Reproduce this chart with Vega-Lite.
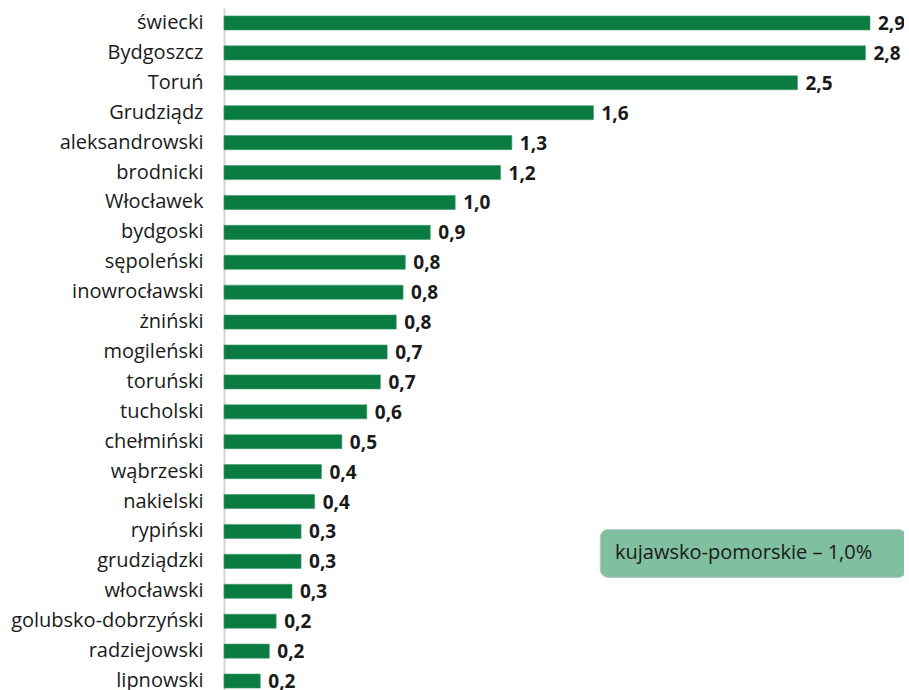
{
  "$schema": "https://vega.github.io/schema/vega-lite/v6.json",
  "autosize": {"type": "none"},
  "padding": {"left": 224, "top": 8, "right": 0, "bottom": 0},
  "width": 680,
  "height": 688,
  "background": "#ffffff",
  "config": {
    "view": {"stroke": null},
    "font": "Open Sans",
    "locale": {"number": {"decimal": ",", "thousands": "\u00a0", "grouping": [3], "currency": ["", " zł"]}}
  },
  "datasets": {
    "powiaty": [
      {"powiat": "świecki", "wartosc": 2.85},
      {"powiat": "Bydgoszcz", "wartosc": 2.83},
      {"powiat": "Toruń", "wartosc": 2.53},
      {"powiat": "Grudziądz", "wartosc": 1.63},
      {"powiat": "aleksandrowski", "wartosc": 1.27},
      {"powiat": "brodnicki", "wartosc": 1.22},
      {"powiat": "Włocławek", "wartosc": 1.02},
      {"powiat": "bydgoski", "wartosc": 0.91},
      {"powiat": "sępoleński", "wartosc": 0.80},
      {"powiat": "inowrocławski", "wartosc": 0.79},
      {"powiat": "żniński", "wartosc": 0.76},
      {"powiat": "mogileński", "wartosc": 0.72},
      {"powiat": "toruński", "wartosc": 0.69},
      {"powiat": "tucholski", "wartosc": 0.63},
      {"powiat": "chełmiński", "wartosc": 0.52},
      {"powiat": "wąbrzeski", "wartosc": 0.43},
      {"powiat": "nakielski", "wartosc": 0.40},
      {"powiat": "rypiński", "wartosc": 0.34},
      {"powiat": "grudziądzki", "wartosc": 0.34},
      {"powiat": "włocławski", "wartosc": 0.30},
      {"powiat": "golubsko-dobrzyński", "wartosc": 0.23},
      {"powiat": "radziejowski", "wartosc": 0.20},
      {"powiat": "lipnowski", "wartosc": 0.16}
    ],
    "adnotacja": [
      {"powiat": "grudziądzki", "od": 1.66, "do": 3.01, "tekst_x": 1.725, "tekst": "kujawsko-pomorskie – 1,0%"}
    ]
  },
  "layer": [
    {
      "data": {"name": "powiaty"},
      "mark": {"type": "bar", "color": "#0a7c42", "stroke": "#3f9a6a", "strokeWidth": 0.6},
      "encoding": {
        "y": {
          "field": "powiat", "type": "nominal", "sort": null,
          "scale": {"paddingInner": 0.53, "paddingOuter": 0.265},
          "axis": {
            "title": null, "ticks": false, "labelPadding": 21,
            "labelFontSize": 20, "labelColor": "#1a1a1a", "labelFont": "Open Sans",
            "domainColor": "#d4d4d4", "domainWidth": 2, "labelLimit": 400
          }
        },
        "x": {
          "field": "wartosc", "type": "quantitative",
          "scale": {"domain": [0, 3], "nice": false},
          "axis": null
        }
      }
    },
    {
      "data": {"name": "powiaty"},
      "mark": {"type": "text", "align": "left", "baseline": "middle", "dx": 8, "dy": 1, "fontSize": 19, "fontWeight": "bold", "color": "#1a1a1a", "font": "Open Sans"},
      "encoding": {
        "y": {"field": "powiat", "type": "nominal", "sort": null},
        "x": {"field": "wartosc", "type": "quantitative"},
        "text": {"field": "wartosc", "type": "quantitative", "format": ".1f"}
      }
    },
    {
      "data": {"name": "adnotacja"},
      "mark": {"type": "bar", "height": 48, "yOffset": -8, "cornerRadius": 8, "fill": "#80bf9f", "stroke": "#b8c8c0", "strokeWidth": 1},
      "encoding": {
        "y": {"field": "powiat", "type": "nominal", "sort": null},
        "x": {"field": "od", "type": "quantitative"},
        "x2": {"field": "do"}
      }
    },
    {
      "data": {"name": "adnotacja"},
      "mark": {"type": "text", "align": "left", "baseline": "middle", "yOffset": -8, "fontSize": 20, "color": "#1a1a1a", "font": "Open Sans"},
      "encoding": {
        "y": {"field": "powiat", "type": "nominal", "sort": null},
        "x": {"field": "tekst_x", "type": "quantitative"},
        "text": {"field": "tekst"}
      }
    }
  ]
}
